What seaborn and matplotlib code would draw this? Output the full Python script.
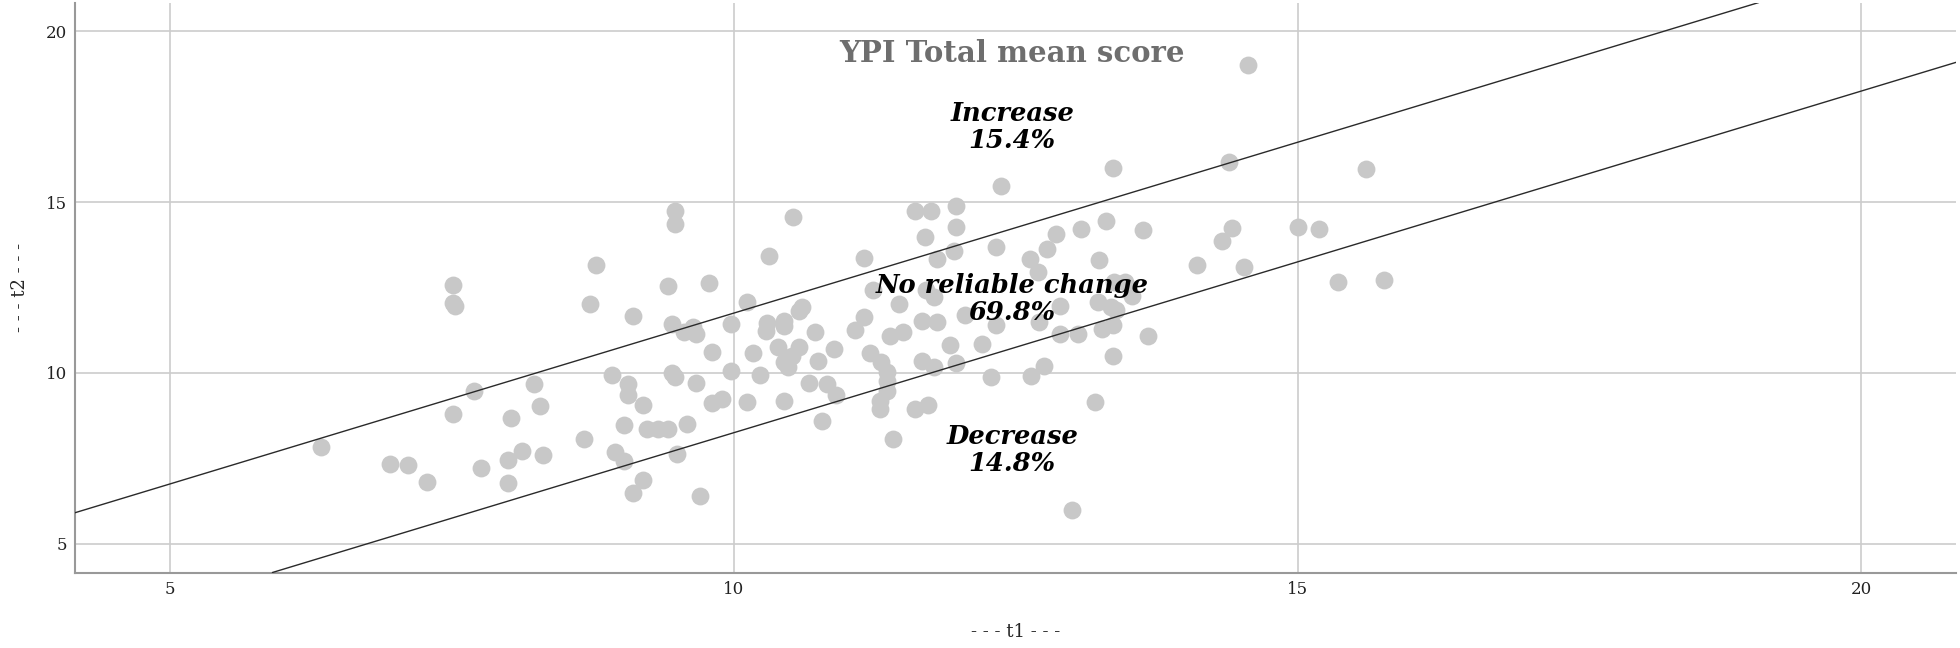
import numpy as np
import pandas as pd
import matplotlib
matplotlib.use("Agg")
import matplotlib.pyplot as plt
import seaborn as sns

# YPI total mean score, t1 vs t2
t1 = [7.51, 7.51, 7.53, 7.70, 8.23, 7.51, 8.28, 8.03, 8.67, 6.34,
      6.95, 7.11, 7.28, 7.76, 8.00, 8.12, 8.31, 8.00,
      9.48, 9.48, 10.53, 8.78, 10.31, 11.16, 8.73, 9.42, 9.78, 9.11,
      10.12, 9.45, 9.56, 9.64, 9.67, 9.98, 10.29, 10.30, 10.45, 10.45,
      10.58, 10.61, 10.72, 11.08, 11.16, 11.24, 9.81, 10.17, 10.39, 10.58,
      10.52, 10.45, 10.48, 10.75, 10.89, 11.21, 8.92, 9.45, 9.48, 9.98,
      10.23, 9.67, 9.06, 9.06, 9.20, 9.81, 9.90, 10.12, 10.45, 10.67,
      10.83, 10.91, 10.78, 9.03, 9.23, 9.33, 9.42, 9.59, 8.95, 9.03,
      9.50, 9.20, 9.11, 9.70,
      13.36, 12.37, 11.61, 11.75, 11.97, 11.97, 11.70, 12.33, 11.95, 12.86,
      13.08, 13.30, 13.63, 12.78, 11.80, 12.63, 13.24, 12.70, 11.47, 11.39,
      11.50, 11.67, 11.80, 11.78, 12.89, 13.23, 13.35, 13.39, 13.53, 13.27,
      13.36, 13.67, 12.89, 13.05, 13.36, 12.33, 12.71, 11.92, 12.20, 11.31,
      11.36, 11.36, 11.36, 11.30, 11.30, 11.67, 11.78, 11.97, 12.28, 12.64,
      12.75, 13.20, 11.61, 11.72, 11.41, 13.00,
      11.71, 12.05, 13.37, 13.47,
      14.39, 15.61, 14.42, 14.33, 15.00, 15.19, 14.11, 14.53, 15.36, 15.77,
      14.56]
t2 = [12.58, 12.05, 11.95, 9.46, 9.68, 8.80, 9.02, 8.68, 8.07, 7.82,
      7.35, 7.32, 6.82, 7.23, 7.45, 7.72, 7.60, 6.79,
      14.73, 14.37, 14.56, 13.16, 13.41, 13.36, 12.02, 12.55, 12.64, 11.68,
      12.07, 11.44, 11.19, 11.34, 11.14, 11.44, 11.24, 11.45, 11.53, 11.36,
      11.80, 11.94, 11.21, 11.26, 11.63, 12.44, 10.62, 10.57, 10.77, 10.75,
      10.51, 10.31, 10.16, 10.34, 10.70, 10.57, 9.94, 9.99, 9.89, 10.07,
      9.94, 9.72, 9.68, 9.36, 9.07, 9.11, 9.24, 9.16, 9.19, 9.70,
      9.68, 9.34, 8.60, 8.49, 8.36, 8.36, 8.36, 8.51, 7.70, 7.43,
      7.64, 6.87, 6.48, 6.40,
      16.01, 15.47, 14.73, 14.73, 14.88, 14.27, 13.97, 13.68, 13.58, 14.07,
      14.22, 14.44, 14.19, 13.63, 13.34, 13.34, 13.31, 12.95, 12.02, 11.07,
      11.19, 11.51, 11.48, 12.21, 11.97, 12.07, 11.92, 11.83, 12.26, 11.29,
      11.39, 11.09, 11.14, 11.14, 10.51, 11.39, 11.48, 10.82, 10.85, 10.31,
      10.02, 9.77, 9.48, 9.19, 8.94, 10.36, 10.18, 10.29, 9.87, 9.90,
      10.19, 9.16, 8.94, 9.06, 8.08, 5.99,
      12.43, 11.71, 12.67, 12.67,
      16.17, 15.98, 14.25, 13.86, 14.27, 14.22, 13.16, 13.09, 12.66, 12.72,
      19.00]

rci_band = 1.75  # reliable change half-width around t2 = t1
ticks = [5, 10, 15, 20]
axis_lim = (4.16, 20.84)

regions = ["Increase\n15.4%", "No reliable change\n69.8%", "Decrease\n14.8%"]
region_x = [12.47, 12.47, 12.47]
region_y = [17.19, 12.15, 7.75]

df = pd.DataFrame({"t1": t1, "t2": t2})

sns.set_style("whitegrid")
plt.rcParams["font.family"] = ["DejaVu Serif", "DejaVu Sans"]

fig = plt.figure(figsize=(19.6, 6.48), dpi=100)
ax = fig.add_axes([0.0383, 0.1165, 0.9597, 0.8796])

sns.scatterplot(data=df, x="t1", y="t2", ax=ax, color="#c8c8c8", s=165,
                linewidth=0, zorder=3)

ax.axline((0, rci_band), slope=1, color="#2a2a2a", lw=1.0, zorder=4)
ax.axline((0, -rci_band), slope=1, color="#2a2a2a", lw=1.0, zorder=4)

ax.set_xlim(axis_lim)
ax.set_ylim(axis_lim)
ax.set_xticks(ticks)
ax.set_yticks(ticks)
ax.grid(True, color="#cccccc", lw=1.2)
ax.tick_params(length=0, labelsize=12, colors="#222222", pad=6)

for side in ["top", "right"]:
    ax.spines[side].set_visible(False)
for side in ["left", "bottom"]:
    ax.spines[side].set_color("#999999")
    ax.spines[side].set_linewidth(1.5)

ax.set_xlabel("- - - t1 - - -", fontsize=13, labelpad=18)
ax.set_ylabel("- - - t2 - - -", fontsize=13, labelpad=12)

ax.text(12.47, 19.35, "YPI Total mean score", ha="center", va="center",
        fontsize=21, fontweight="bold", color="#6e6e6e")

for label, x, y in zip(regions, region_x, region_y):
    ax.text(x, y, label, ha="center", va="center", fontsize=18.5,
            fontweight="bold", fontstyle="italic", color="black",
            linespacing=1.1, zorder=5)

fig.savefig("out.png", dpi=100)
